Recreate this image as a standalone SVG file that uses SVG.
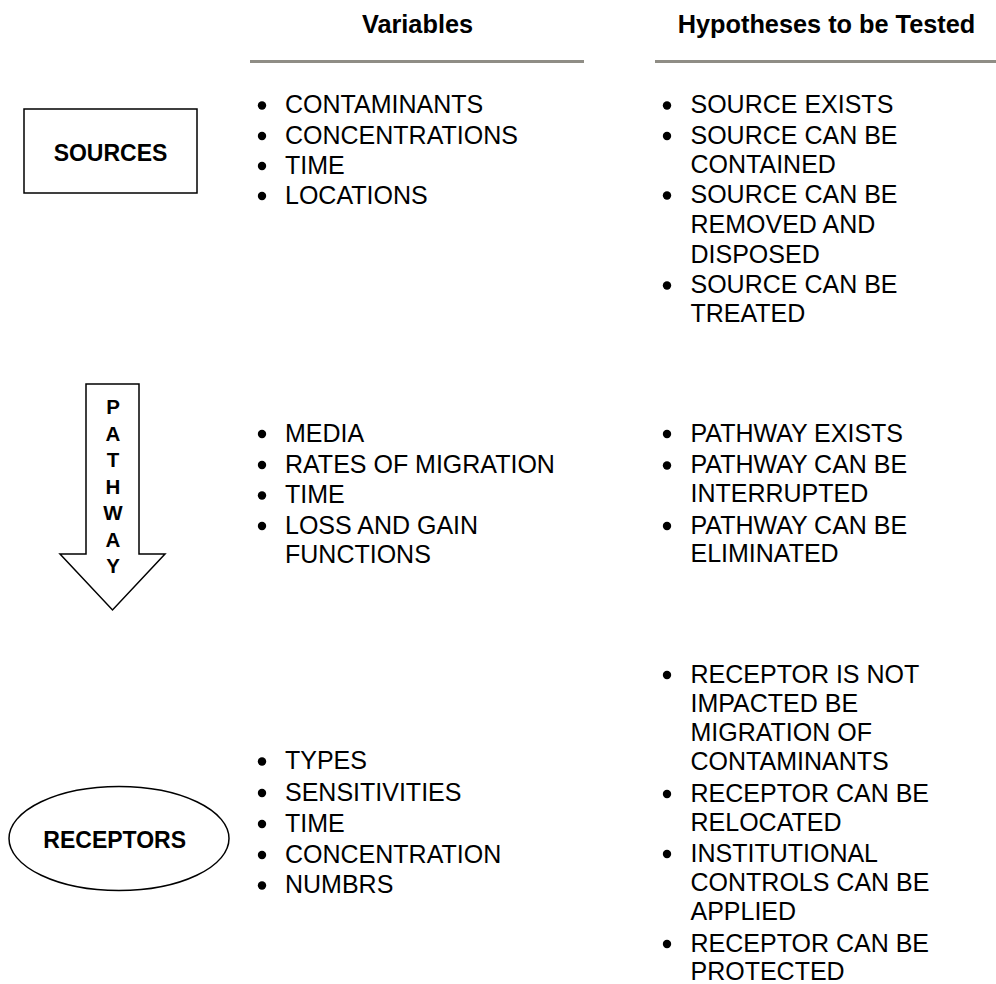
<svg xmlns="http://www.w3.org/2000/svg" width="996" height="984" viewBox="0 0 996 984">
<style>
.hdr{font-family:"Liberation Sans",Arial,sans-serif;font-weight:bold;font-size:25.3px;fill:#000;text-anchor:middle}
.lbl{font-family:"Liberation Sans",Arial,sans-serif;font-weight:bold;font-size:23px;fill:#000;text-anchor:middle}
.pw{font-family:"Liberation Sans",Arial,sans-serif;font-weight:bold;font-size:20.5px;fill:#000;text-anchor:middle}
.t{font-family:"Liberation Sans",Arial,sans-serif;font-size:25px;fill:#000}
.rule{stroke:#8f8d85;stroke-width:3;fill:none}
.shape{fill:#fff;stroke:#000;stroke-width:1.5}
.b{fill:#000}
</style>
<rect width="996" height="984" fill="#fff"/>
<g id="headers">
<text class="hdr" x="417.5" y="33">Variables</text>
<text class="hdr" x="826.5" y="33">Hypotheses to be Tested</text>
<line class="rule" x1="250" y1="61.5" x2="584" y2="61.5"/>
<line class="rule" x1="655" y1="61.5" x2="996" y2="61.5"/>
</g>
<g id="sources">
<rect class="shape" x="24" y="109" width="173" height="84"/>
<text class="lbl" x="110.5" y="161">SOURCES</text>
</g>
<g id="pathway">
<polygon class="shape" points="86,384 139,384 139,554 165,554 112.5,610 60,554 86,554"/>
<text class="pw" x="113" y="413.5">P</text>
<text class="pw" x="113" y="440.5">A</text>
<text class="pw" x="113" y="467">T</text>
<text class="pw" x="113" y="493.5">H</text>
<text class="pw" x="113" y="520">W</text>
<text class="pw" x="113" y="546.5">A</text>
<text class="pw" x="113" y="573">Y</text>
</g>
<g id="receptors">
<ellipse class="shape" cx="119" cy="838.5" rx="110" ry="52"/>
<text class="lbl" x="114.7" y="848">RECEPTORS</text>
</g>
<g id="sources-variables">
<circle class="b" cx="262" cy="105.5" r="4.2"/><text class="t" x="285" y="113.3">CONTAMINANTS</text>
<circle class="b" cx="262" cy="136" r="4.2"/><text class="t" x="285" y="143.8">CONCENTRATIONS</text>
<circle class="b" cx="262" cy="166" r="4.2"/><text class="t" x="285" y="173.8">TIME</text>
<circle class="b" cx="262" cy="196" r="4.2"/><text class="t" x="285" y="204">LOCATIONS</text>
</g>
<g id="sources-hypotheses">
<circle class="b" cx="667" cy="105.5" r="4.2"/><text class="t" x="690.5" y="113.3">SOURCE EXISTS</text>
<circle class="b" cx="667" cy="136" r="4.2"/><text class="t" x="690.5" y="144">SOURCE CAN BE</text>
<text class="t" x="690.5" y="172.7">CONTAINED</text>
<circle class="b" cx="667" cy="195.5" r="4.2"/><text class="t" x="690.5" y="203.3">SOURCE CAN BE</text>
<text class="t" x="690.5" y="233.3">REMOVED AND</text>
<text class="t" x="690.5" y="262.7">DISPOSED</text>
<circle class="b" cx="667" cy="285.5" r="4.2"/><text class="t" x="690.5" y="293.3">SOURCE CAN BE</text>
<text class="t" x="690.5" y="322.3">TREATED</text>
</g>
<g id="pathway-variables">
<circle class="b" cx="262" cy="434" r="4.2"/><text class="t" x="285" y="441.7">MEDIA</text>
<circle class="b" cx="262" cy="465" r="4.2"/><text class="t" x="285" y="472.7">RATES OF MIGRATION</text>
<circle class="b" cx="262" cy="495.5" r="4.2"/><text class="t" x="285" y="503.3">TIME</text>
<circle class="b" cx="262" cy="526" r="4.2"/><text class="t" x="285" y="534">LOSS AND GAIN</text>
<text class="t" x="285" y="563.3">FUNCTIONS</text>
</g>
<g id="pathway-hypotheses">
<circle class="b" cx="667" cy="434" r="4.2"/><text class="t" x="690.5" y="441.7">PATHWAY EXISTS</text>
<circle class="b" cx="667" cy="465.5" r="4.2"/><text class="t" x="690.5" y="473.3">PATHWAY CAN BE</text>
<text class="t" x="690.5" y="502">INTERRUPTED</text>
<circle class="b" cx="667" cy="526" r="4.2"/><text class="t" x="690.5" y="534">PATHWAY CAN BE</text>
<text class="t" x="690.5" y="562.3">ELIMINATED</text>
</g>
<g id="receptors-variables">
<circle class="b" cx="262" cy="761.5" r="4.2"/><text class="t" x="285" y="769.3">TYPES</text>
<circle class="b" cx="262" cy="793" r="4.2"/><text class="t" x="285" y="801">SENSITIVITIES</text>
<circle class="b" cx="262" cy="824" r="4.2"/><text class="t" x="285" y="831.7">TIME</text>
<circle class="b" cx="262" cy="855" r="4.2"/><text class="t" x="285" y="862.7">CONCENTRATION</text>
<circle class="b" cx="262" cy="885.5" r="4.2"/><text class="t" x="285" y="893.3">NUMBRS</text>
</g>
<g id="receptors-hypotheses">
<circle class="b" cx="667" cy="675" r="4.2"/><text class="t" x="690.5" y="682.7">RECEPTOR IS NOT</text>
<text class="t" x="690.5" y="711.7">IMPACTED BE</text>
<text class="t" x="690.5" y="740.7">MIGRATION OF</text>
<text class="t" x="690.5" y="770">CONTAMINANTS</text>
<circle class="b" cx="667" cy="794" r="4.2"/><text class="t" x="690.5" y="802">RECEPTOR CAN BE</text>
<text class="t" x="690.5" y="831">RELOCATED</text>
<circle class="b" cx="667" cy="854" r="4.2"/><text class="t" x="690.5" y="861.7">INSTITUTIONAL</text>
<text class="t" x="690.5" y="890.7">CONTROLS CAN BE</text>
<text class="t" x="690.5" y="920">APPLIED</text>
<circle class="b" cx="667" cy="944" r="4.2"/><text class="t" x="690.5" y="951.7">RECEPTOR CAN BE</text>
<text class="t" x="690.5" y="980">PROTECTED</text>
</g>
</svg>
